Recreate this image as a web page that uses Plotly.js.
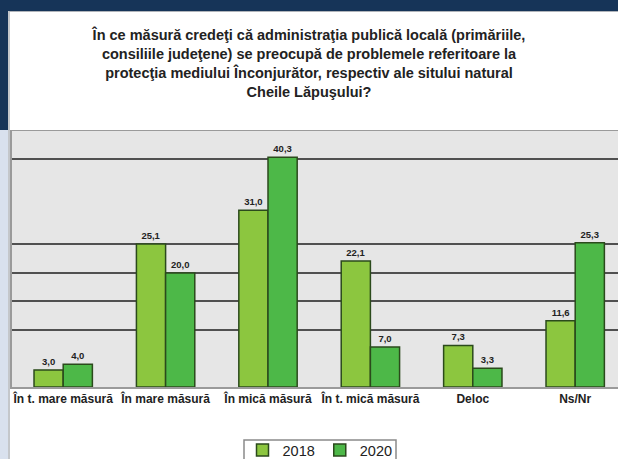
<!DOCTYPE html>
<html>
<head>
<meta charset="utf-8">
<script src="https://cdn.plot.ly/plotly-3.0.1.min.js"></script>
<style>html,body{margin:0;padding:0;background:#fff;}#chart{width:618px;height:459px;}</style>
</head>
<body>
<div id="chart"></div>
<script>
const categories = ["În t. mare măsură", "În mare măsură", "În mică măsură", "În t. mică măsură", "Deloc", "Ns/Nr"];
const values2018 = [3.0, 25.1, 31.0, 22.1, 7.3, 11.6];
const values2020 = [4.0, 20.0, 40.3, 7.0, 3.3, 25.3];
const seriesNames = ["2018", "2020"];
const gridValues = [10, 15, 20, 25, 40];

const fmt = v => v.toFixed(1).replace('.', ',');

const W = 618, H = 459, L = 12, R = 0, T = 131, B = 72;
const pw = W - L - R, ph = H - T - B;
const px = x => (x - L) / pw;
const py = y => (H - B - y) / ph;
const FONT = 'Liberation Sans, Arial, sans-serif';

const common = {
  type: 'bar',
  textposition: 'outside',
  cliponaxis: false,
  texttemplate: '<b>%{text}</b>',
  textfont: {family: FONT, size: 9.5, color: '#222'},
  hoverinfo: 'none'
};

const traces = [
  Object.assign({}, common, {
    x: categories, y: values2018, name: seriesNames[0],
    text: values2018.map(fmt),
    marker: {color: '#8cc63f', line: {color: '#2b4a1c', width: 1.5}}
  }),
  Object.assign({}, common, {
    x: categories, y: values2020, name: seriesNames[1],
    text: values2020.map(fmt),
    marker: {color: '#4db848', line: {color: '#2b4a1c', width: 1.5}}
  })
];

const layout = {
  width: W, height: H,
  margin: {l: L, r: R, t: T, b: B, pad: 0},
  paper_bgcolor: '#ffffff',
  plot_bgcolor: '#e6e6e6',
  barmode: 'group',
  bargap: 0.43,
  bargroupgap: 0,
  showlegend: true,
  font: {family: FONT, color: '#222'},
  title: {
    text: '<b>În ce măsură credeţi că administraţia publică locală (primăriile,<br>consiliile judeţene) se preocupă de problemele referitoare la<br>protecţia mediului Înconjurător, respectiv ale sitului natural<br>Cheile Lăpuşului?</b>',
    font: {family: FONT, size: 14.5, color: '#222'},
    x: 0.5, xref: 'container', xanchor: 'center',
    y: 1 - 40 / H, yref: 'container', yanchor: 'top'
  },
  xaxis: {
    range: [-0.5, -0.5 + pw / 102.4],
    tickfont: {family: FONT, size: 12, color: '#222'},
    tickprefix: '<b>', ticksuffix: '</b>',
    showline: true, linecolor: '#9a9a9a', linewidth: 1.5, mirror: true,
    ticks: '', showgrid: false, fixedrange: true
  },
  yaxis: {
    range: [0, 44.9],
    tickvals: gridValues,
    showticklabels: false,
    showgrid: true, gridcolor: '#505050', gridwidth: 2,
    zeroline: false,
    showline: true, linecolor: '#9a9a9a', linewidth: 2,
    ticks: '', fixedrange: true
  },
  legend: {
    orientation: 'h',
    x: 320 / W, xref: 'container', xanchor: 'center',
    y: 1 - 434 / H, yref: 'container', yanchor: 'top',
    bgcolor: 'rgba(0,0,0,0)', borderwidth: 0,
    font: {family: FONT, size: 14.5, color: '#222'},
    itemwidth: 30
  },
  shapes: [
    {type: 'rect', xref: 'paper', yref: 'paper', layer: 'below',
     x0: px(0), x1: px(W), y0: py(11), y1: py(0),
     fillcolor: '#163458', line: {width: 0}},
    {type: 'rect', xref: 'paper', yref: 'paper', layer: 'below',
     x0: px(0), x1: px(8), y0: py(130), y1: py(0),
     fillcolor: '#163458', line: {width: 0}},
    {type: 'rect', xref: 'paper', yref: 'paper', layer: 'below',
     x0: px(0), x1: px(8), y0: py(H), y1: py(130),
     fillcolor: '#d9e1ee', line: {width: 0}},
    {type: 'line', xref: 'paper', yref: 'paper', layer: 'below',
     x0: px(9), x1: px(9), y0: py(H), y1: py(11),
     line: {color: '#b0b4ba', width: 1.5}},
    {type: 'line', xref: 'paper', yref: 'paper', layer: 'below',
     x0: px(9), x1: px(W), y0: py(11.5), y1: py(11.5),
     line: {color: '#b0b4ba', width: 1}},
    {type: 'rect', xref: 'paper', yref: 'paper', layer: 'below',
     x0: px(244), x1: px(396), y0: py(H + 10), y1: py(440),
     fillcolor: '#ffffff', line: {color: '#8a8a8a', width: 1.5}}
  ]
};

Plotly.newPlot('chart', traces, layout, {displayModeBar: false, staticPlot: true});
</script>
</body>
</html>
